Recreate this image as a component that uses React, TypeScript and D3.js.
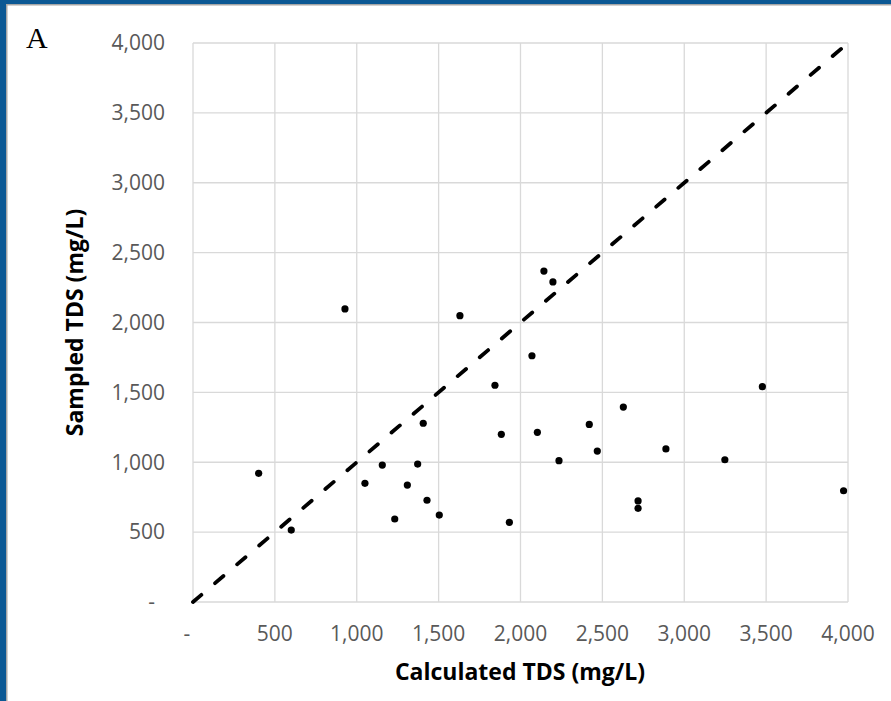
import React, { useEffect, useRef } from 'react';
import * as d3 from 'd3';

// Calculated vs sampled TDS (mg/L), one entry per sample
const calculatedTDS = [
  401, 600, 928, 1050, 1156, 1232, 1309, 1372, 1406, 1429, 1504, 1630, 1844, 1883, 1932,
  2070, 2103, 2143, 2198, 2235, 2420, 2469, 2628, 2718, 2718, 2888, 3248, 3477, 3973
];
const sampledTDS = [
  921, 515, 2097, 849, 980, 594, 837, 987, 1279, 728, 622, 2049, 1551, 1200, 570,
  1762, 1214, 2368, 2290, 1011, 1271, 1080, 1395, 723, 670, 1095, 1018, 1541, 796
];
const tickValues = [0, 500, 1000, 1500, 2000, 2500, 3000, 3500, 4000];
const oneToOne = [0, 4000];

const W = 891;
const H = 701;
const FONT = '"Open Sans", "Liberation Sans", sans-serif';

const fmt = (v: number) => (v === 0 ? '-' : d3.format(',')(v));

export default function App() {
  const svgRef = useRef<SVGSVGElement>(null);

  useEffect(() => {
    const svg = d3.select(svgRef.current);
    svg.selectAll('*').remove();

    const left = 193, right = 848, top = 43, bottom = 602;
    const x = d3.scaleLinear().domain([0, 4000]).range([left, right]);
    const y = d3.scaleLinear().domain([0, 4000]).range([bottom, top]);

    // frame
    svg.append('rect').attr('width', W).attr('height', H).attr('fill', '#fff');
    svg.append('rect').attr('x', 0).attr('y', 0).attr('width', W).attr('height', 4).attr('fill', '#0b5894');
    svg.append('rect').attr('x', 0).attr('y', 0).attr('width', 6).attr('height', H).attr('fill', '#0b5894');
    svg.append('rect').attr('x', 6).attr('y', 4).attr('width', W - 6).attr('height', 1.5).attr('fill', '#a6a6a6');
    svg.append('rect').attr('x', 6).attr('y', 4).attr('width', 1.5).attr('height', H - 4).attr('fill', '#a6a6a6');

    // grid
    const g = svg.append('g');
    g.selectAll('.vgrid')
      .data(tickValues)
      .enter()
      .append('line')
      .attr('x1', d => x(d)).attr('x2', d => x(d))
      .attr('y1', top).attr('y2', bottom)
      .attr('stroke', '#d9d9d9').attr('stroke-width', 1.3);
    g.selectAll('.hgrid')
      .data(tickValues)
      .enter()
      .append('line')
      .attr('x1', left).attr('x2', right)
      .attr('y1', d => y(d)).attr('y2', d => y(d))
      .attr('stroke', '#d9d9d9').attr('stroke-width', 1.3);

    // tick labels
    g.selectAll('.ylab')
      .data(tickValues)
      .enter()
      .append('text')
      .attr('x', d => (d === 0 ? 155 : 165))
      .attr('y', d => y(d))
      .attr('dy', '0.35em')
      .attr('text-anchor', 'end')
      .style('font-family', FONT).style('font-size', '21px').style('fill', '#595959')
      .text(d => fmt(d));
    g.selectAll('.xlab')
      .data(tickValues)
      .enter()
      .append('text')
      .attr('x', d => (d === 0 ? x(d) - 6 : x(d)))
      .attr('y', 634)
      .attr('dy', '0.35em')
      .attr('text-anchor', 'middle')
      .style('font-family', FONT).style('font-size', '21px').style('fill', '#595959')
      .text(d => fmt(d));

    // 1:1 line
    const line = d3.line<number>().x(d => x(d)).y(d => y(d));
    g.append('path')
      .datum(oneToOne)
      .attr('d', line)
      .attr('fill', 'none')
      .attr('stroke', '#000')
      .attr('stroke-width', 3.8)
      .attr('stroke-linecap', 'round')
      .attr('stroke-dasharray', '11 18');

    // points
    g.selectAll('.pt')
      .data(calculatedTDS)
      .enter()
      .append('circle')
      .attr('cx', d => x(d))
      .attr('cy', (d, i) => y(sampledTDS[i]))
      .attr('r', 3.6)
      .attr('fill', '#000');

    // axis titles
    svg.append('text')
      .attr('x', 520).attr('y', 672)
      .attr('dy', '0.35em').attr('text-anchor', 'middle')
      .style('font-family', FONT).style('font-size', '23px').style('font-weight', 'bold').style('fill', '#000')
      .text('Calculated TDS (mg/L)');
    svg.append('text')
      .attr('transform', `translate(75, ${(top + bottom) / 2}) rotate(-90)`)
      .attr('dy', '0.35em').attr('text-anchor', 'middle')
      .style('font-family', FONT).style('font-size', '23px').style('font-weight', 'bold').style('fill', '#000')
      .text('Sampled TDS (mg/L)');

    // panel letter
    svg.append('text')
      .attr('x', 26).attr('y', 48)
      .style('font-family', '"Liberation Serif", "DejaVu Serif", serif').style('font-size', '30px').style('fill', '#000')
      .text('A');
  }, []);

  return (
    <svg
      ref={svgRef}
      width={W}
      height={H}
      style={{ position: 'absolute', left: 0, top: 0, display: 'block' }}
    />
  );
}
